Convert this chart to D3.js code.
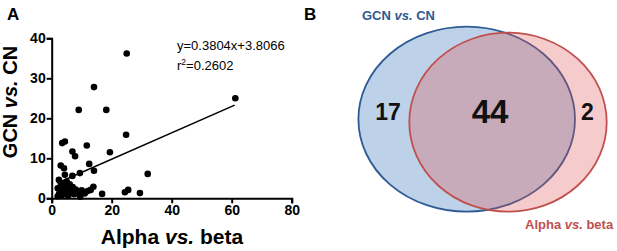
<!DOCTYPE html>
<html><head><meta charset="utf-8">
<script src="https://cdn.jsdelivr.net/npm/d3@7"></script>
<style>body{margin:0;background:#fff}svg{display:block;font-family:"Liberation Sans",Arial,sans-serif}</style>
</head><body><svg id="c" width="617" height="251"></svg>
<script>
// Panel A scatter data (Alpha vs. beta, GCN vs. CN)
const xVals = [25,14.1,9,18.2,61.2,24.8,3.5,4.4,11.7,6.9,7.8,19.4,12.5,3,4.1,14.1,32,9.4,4.4,6.9,2.4,
  16.8,24.4,25.5,29.4,13.9,13,
  2,2.5,3,3.5,4,4.5,5,5.5,6,6.5,7,7.5,8,9,9.5,10,11,12,3,2,5];
const yVals = [36.2,27.8,22.1,22.1,25,15.9,13.8,14.2,13.2,11.7,10.5,11.5,8.6,8.2,7.5,6.9,6.1,6.3,5.9,5.6,4.6,
  1.1,1.5,2.1,1.3,2.9,2.1,
  0.5,1.2,2,0.8,3,1.5,2.5,0.6,3.5,1.8,2.8,1,2.2,1.5,0.4,2,1.2,1.8,3.8,2.5,4.2];
const fitX = [2.5, 61];
const fitY = [4.0, 23.3];
const xTicks = [0,20,40,60,80];
const yTicks = [0,10,20,30,40];
const eqLabel = "y=0.3804x+3.8066";
const r2Label = "0.2602";
// Panel B Venn counts
const vennSets = ["GCN", "Alpha"];
const vennCounts = [17, 44, 2];

const svg = d3.select("#c");
const x = d3.scaleLinear().domain([0,80]).range([51.7,291.7]);
const y = d3.scaleLinear().domain([0,40]).range([198.3,38.3]);

const g = svg.append("g");
const xa = g.append("g").attr("transform","translate(0,198.3)")
  .call(d3.axisBottom(x).tickValues(xTicks).tickSize(5).tickPadding(2));
const ya = g.append("g").attr("transform","translate(51.7,0)")
  .call(d3.axisLeft(y).tickValues(yTicks).tickSize(5).tickPadding(1));
[xa,ya].forEach(a=>{
  a.select(".domain").attr("stroke","#000").attr("stroke-width",2);
  a.selectAll(".tick line").attr("stroke","#000").attr("stroke-width",2);
  a.selectAll(".tick text").attr("font-size",14).attr("font-weight","bold")
   .attr("font-family","'Liberation Sans',Arial,sans-serif").attr("fill","#000");
});
xa.selectAll(".tick text").attr("dy","0.72em");

g.append("line").attr("x1",x(fitX[0])).attr("y1",y(fitY[0]))
  .attr("x2",x(fitX[1])).attr("y2",y(fitY[1])).attr("stroke","#000").attr("stroke-width",1.5);

g.selectAll("circle.pt").data(xVals.map((d,i)=>[d,yVals[i]])).join("circle")
  .attr("class","pt").attr("cx",d=>x(d[0])).attr("cy",d=>y(d[1])).attr("r",3.3).attr("fill","#000");

g.append("text").attr("x",177).attr("y",50).attr("font-size",13).text(eqLabel);
const r2 = g.append("text").attr("x",177).attr("y",70).attr("font-size",13);
r2.append("tspan").text("r");
r2.append("tspan").attr("dy",-5).attr("font-size",8.5).text("2");
r2.append("tspan").attr("dy",5).text("="+r2Label);

// axis titles
const xt = g.append("text").attr("x",172).attr("y",244).attr("text-anchor","middle")
  .attr("font-size",21).attr("font-weight","bold");
xt.append("tspan").text("Alpha ");
xt.append("tspan").attr("font-style","italic").text("vs.");
xt.append("tspan").text(" beta");
const yt = g.append("text").attr("transform","translate(16.5,102) rotate(-90)").attr("text-anchor","middle")
  .attr("font-size",20).attr("font-weight","bold");
yt.append("tspan").text("GCN ");
yt.append("tspan").attr("font-style","italic").text("vs.");
yt.append("tspan").text(" CN");

svg.append("text").attr("x",7).attr("y",20).attr("font-size",17).attr("font-weight","bold").text("A");
svg.append("text").attr("x",304).attr("y",20).attr("font-size",17).attr("font-weight","bold").text("B");

// Venn
const ell = [
  {cx:466.7, cy:119.2, rx:108.3, ry:92.5, fill:"#bdd1e8", op:1, stroke:"#2e5a94"},
  {cx:508, cy:122.2, rx:98.7, ry:89.5, fill:"rgb(222,82,82)", op:0.3, stroke:"#c0504d"}
];
svg.selectAll("ellipse").data(ell).join("ellipse")
  .attr("cx",d=>d.cx).attr("cy",d=>d.cy).attr("rx",d=>d.rx).attr("ry",d=>d.ry)
  .attr("fill",d=>d.fill).attr("fill-opacity",d=>d.op)
  .attr("stroke",d=>d.stroke).attr("stroke-width",1.8);

const cnt = [{x:388,y:120,s:23},{x:490,y:123,s:33},{x:587.5,y:120,s:23}];
svg.selectAll("text.cnt").data(vennCounts).join("text").attr("class","cnt")
  .attr("x",(d,i)=>cnt[i].x).attr("y",(d,i)=>cnt[i].y).attr("text-anchor","middle")
  .attr("font-size",(d,i)=>cnt[i].s).attr("font-weight","bold").attr("fill","#111").text(d=>d);

const l1 = svg.append("text").attr("x",362).attr("y",20).attr("font-size",13).attr("font-weight","bold").attr("fill","#2e5a94");
l1.append("tspan").text("GCN ");
l1.append("tspan").attr("font-style","italic").text("vs.");
l1.append("tspan").text(" CN");
const l2 = svg.append("text").attr("x",525).attr("y",229).attr("font-size",13).attr("font-weight","bold").attr("fill","#c0504d");
l2.append("tspan").text("Alpha ");
l2.append("tspan").attr("font-style","italic").text("vs.");
l2.append("tspan").text(" beta");
</script></body></html>
